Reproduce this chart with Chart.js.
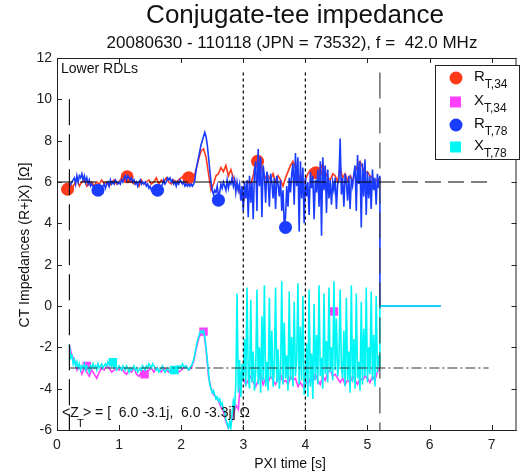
<!DOCTYPE html>
<html>
<head>
<meta charset="utf-8">
<script src="https://cdn.jsdelivr.net/npm/chart.js@4.4.1/dist/chart.umd.min.js"></script>
<style>
  html, body { margin: 0; padding: 0; background: #fff; }
  #ct { display: block; }
</style>
</head>
<body>
<canvas id="ct" width="523" height="472"></canvas>
<script>
/* Conjugate-tee impedance, JPN 73532. */

const FONT = 'Arial, "Liberation Sans", sans-serif';

const xTicks = [0, 1, 2, 3, 4, 5, 6, 7];
const yTicks = [-6, -4, -2, 0, 2, 4, 6, 8, 10, 12];

// sampling of the traces (start time and step, seconds)
const T_START = 0.2;
const DT_78 = 0.02;
const DT_34 = 0.04;

// R_T,78 (blue), one value every 0.02 s from 0.2 s
const r78 = [
  5.8, 5.9, 6.0, 6.1, 6.2, 5.9, 6.3, 6.0, 6.3, 6.2,
  6.4, 6.1, 6.3, 6.0, 6.2, 5.9, 6.1, 5.8, 5.9, 5.8,
  5.7, 5.8, 5.6, 5.7, 5.6, 5.7, 5.6, 5.8, 5.9, 5.7,
  5.9, 6.0, 5.8, 6.1, 5.9, 6.0, 5.9, 6.1, 6.0, 5.9,
  6.0, 5.9, 6.1, 6.0, 6.2, 6.3, 6.1, 6.3, 6.2, 6.1,
  6.2, 6.0, 6.1, 5.9, 6.0, 5.8, 6.0, 6.1, 5.9, 6.0,
  5.9, 6.0, 5.8, 5.9, 5.7, 5.8, 5.6, 5.7, 5.6, 5.5,
  5.6, 5.5, 5.7, 5.6, 5.8, 5.9, 6.1, 5.9, 6.0, 6.2,
  6.1, 6.2, 6.0, 6.1, 5.9, 6.0, 5.8, 6.0, 5.9, 6.1,
  6.0, 5.9, 6.0, 5.8, 5.9, 5.8, 5.9, 5.8, 5.9, 5.8,
  5.9, 6.1, 6.6, 6.9, 7.2, 7.5, 7.8, 8.0, 8.2, 8.4,
  8.2, 7.8, 7.2, 6.6, 6.0, 5.6, 5.4, 5.6, 5.5, 5.8,
  5.3, 5.5, 5.9, 5.7, 6.0, 5.8, 5.6, 6.1, 5.7, 6.0,
  5.9, 6.2, 5.8, 6.1, 5.5, 6.0, 5.6, 5.9, 5.1, 5.8,
  4.6, 6.0, 5.2, 6.1, 4.3, 6.3, 5.0, 6.0, 4.2, 6.5,
  7.0, 4.6, 7.6, 5.8, 7.2, 4.3, 6.8, 6.3, 5.0, 6.5,
  6.1, 4.8, 6.4, 6.0, 5.2, 6.2, 4.7, 6.3, 5.9, 5.3,
  6.1, 4.6, 5.6, 3.9, 4.3, 5.8, 4.8, 6.2, 5.5, 6.4,
  6.9, 4.9, 7.4, 5.8, 7.2, 3.6, 7.0, 5.2, 6.7, 4.0,
  6.2, 5.3, 6.0, 4.4, 6.5, 5.7, 6.3, 4.2, 6.1, 5.5,
  6.6, 4.8, 7.0, 3.4, 7.2, 5.6, 6.8, 4.5, 6.6, 5.2,
  6.1, 4.9, 6.0, 5.6, 6.2, 4.7, 5.9, 6.1, 8.1, 5.4,
  6.2, 4.8, 6.4, 6.0, 5.1, 6.3, 4.7, 6.1, 5.8, 6.4,
  6.8, 4.6, 7.3, 5.9, 7.0, 3.8, 6.9, 5.3, 7.1, 4.4,
  6.5, 5.2, 6.3, 4.7, 6.6, 5.6, 6.2, 4.9, 6.4, 5.7,
  6.3
];

// X_T,78 (cyan), same sampling
const x78 = [
  -1.9, -2.5, -2.4, -2.8, -2.6, -2.9, -2.7, -3.0, -2.8, -3.1,
  -2.9, -3.0, -2.8, -3.1, -2.9, -3.0, -3.2, -2.9, -3.0, -2.8,
  -3.0, -2.9, -3.1, -2.8, -3.0, -2.9, -2.8, -3.0, -2.9, -2.8,
  -2.9, -2.7, -2.8, -2.7, -2.9, -2.8, -3.0, -2.9, -3.1, -3.0,
  -2.9, -3.0, -3.1, -2.9, -3.0, -3.1, -2.9, -3.0, -3.2, -3.0,
  -3.1, -3.0, -2.9, -3.1, -3.0, -3.2, -3.1, -3.0, -3.1, -2.9,
  -3.0, -3.1, -2.9, -3.0, -2.8, -2.9, -3.0, -2.8, -2.9, -3.0,
  -3.1, -3.0, -3.2, -3.1, -3.0, -2.9, -3.1, -3.2, -3.1, -3.0,
  -3.1, -3.2, -3.1, -3.0, -3.2, -3.1, -3.0, -2.9, -3.0, -2.9,
  -3.0, -2.8, -2.9, -3.0, -2.9, -3.0, -3.1, -3.0, -2.9, -2.8,
  -2.6, -2.3, -2.0, -1.7, -1.5, -1.3, -1.2, -1.3, -1.2, -1.5,
  -2.0, -2.6, -3.2, -3.8, -4.0, -4.2, -4.1, -4.3, -4.5, -4.4,
  -4.6, -4.5, -4.8, -4.7, -5.0, -5.1, -5.5, -5.7, -5.9, -5.6,
  -5.9, -5.2, -4.6, -4.9, -3.8, 0.6, -4.2, -2.6, -4.4, -2.8,
  -3.6, -1.6, -3.9, 0.9, -3.4, -4.0, 0.3, -3.7, -2.2, -4.1,
  -3.2, 0.8, -3.8, -2.0, -4.2, -0.5, -3.6, 1.0, -3.9, -2.7,
  -4.1, 0.4, -3.5, -1.2, -3.9, -3.0, 0.9, -3.7, -2.1, -4.0,
  -3.3, 1.2, -3.8, -0.8, -3.5, -2.4, -4.1, 0.7, -3.6, -1.5,
  -3.9, 0.2, -3.4, -2.6, 1.1, -3.8, -1.0, -3.6, 0.5, -4.3,
  -3.7, -1.8, -4.4, 0.8, -3.9, -2.3, -4.5, 0.1, -3.6, -1.4,
  -3.8, 1.0, -3.4, -2.5, -4.0, 0.6, -3.3, -1.7, -3.7, 0.9,
  -3.2, -2.0, -3.6, 1.2, -3.1, -0.6, -3.4, -2.8, 0.8, -3.0,
  -3.5, -1.2, -3.9, 0.4, -3.6, -2.2, -4.2, 1.0, -3.7, -1.6,
  -4.0, 0.6, -3.5, -2.7, -4.1, 0.2, -3.8, -1.1, -3.4, 0.9,
  -3.7, -2.0, -3.3, 0.7, -3.6, -1.4, -3.9, 0.5, -3.2, -2.4,
  -3.0
];

// R_T,34 (red), one value every 0.04 s from 0.2 s
const r34 = [
  5.6, 5.7, 5.9, 6.2, 5.8, 6.0, 6.1, 5.8, 5.9, 6.0,
  5.8, 6.0, 5.9, 6.1, 5.9, 6.0, 5.8, 6.0, 6.1, 5.9,
  6.0, 6.2, 6.3, 6.2, 6.1, 6.0, 5.9, 6.0, 5.8, 6.1,
  5.9, 6.0, 6.1, 5.9, 6.0, 6.2, 5.9, 6.1, 6.0, 6.2,
  6.0, 5.9, 6.1, 6.0, 6.1, 6.2, 6.3, 6.2, 6.1, 6.0,
  6.2, 6.6, 7.1, 7.5, 7.6, 7.2, 6.4, 5.6, 5.9, 6.3,
  6.4, 6.7, 6.5, 6.8, 6.3, 6.6, 6.2, 6.0, 5.6, 5.4,
  5.0, 5.6, 6.0, 5.9, 6.3, 7.0, 7.1, 6.9, 6.4, 6.2,
  6.3, 6.1, 6.4, 6.0, 6.3, 6.1, 5.8, 6.2, 6.5, 6.8,
  7.0, 6.7, 6.5, 6.0, 5.8, 6.1, 6.4, 6.6, 6.5, 6.4,
  6.3, 6.6, 6.9, 6.5, 6.2, 6.1, 6.4, 6.3, 6.0, 6.7,
  6.2, 6.4, 6.1, 6.3, 6.0, 6.5, 6.8, 7.0, 6.7, 6.4,
  6.5, 6.3, 6.2, 6.0, 6.1,
  6.2
];

// X_T,34 (magenta), same sampling as r34
const x34 = [
  -1.9, -2.4, -2.6, -3.1, -2.9, -3.3, -3.0, -3.2, -3.4, -3.1,
  -3.3, -3.5, -3.2, -3.0, -3.1, -2.9, -3.0, -3.2, -3.1, -3.0,
  -3.1, -3.0, -3.2, -3.3, -3.1, -3.2, -3.0, -3.3, -3.4, -3.2,
  -3.3, -3.2, -3.1, -3.0, -3.2, -3.0, -3.1, -3.2, -3.0, -3.1,
  -3.2, -3.0, -3.1, -3.0, -3.2, -3.1, -3.0, -2.9, -3.1, -3.0,
  -2.7, -2.1, -1.6, -1.3, -1.2, -2.1, -3.4, -4.0, -4.3, -4.4,
  -4.6, -4.9, -5.1, -5.6, -5.9, -5.7, -5.3, -4.8, -5.0, -3.4,
  -3.5, -3.8, -3.6, -3.4, -3.7, -3.9, -3.6, -3.3, -3.8, -3.5,
  -3.7, -3.4, -3.6, -3.8, -3.5, -3.3, -3.7, -3.6, -3.8, -3.4,
  -3.6, -3.5, -3.9, -3.7, -3.9, -3.6, -3.8, -3.5, -3.7, -3.3,
  -3.6, -3.8, -3.4, -3.6, -3.2, -3.1, -3.4, -3.3, -3.5, -3.7,
  -3.5, -3.8, -3.6, -3.7, -3.4, -3.6, -3.8, -3.5, -3.6, -3.4,
  -3.5, -3.7, -3.4, -3.6, -3.2,
  -3.0
];

// after the RF trip both 7/8 traces sit at zero
const tailTime = [5.2, 6.18];
const tailR78 = [0, 0];
const tailX78 = [0, 0];

// sparse marker symbols
const r34MarkT = [0.17, 1.13, 2.12, 3.23, 4.17];
const r34MarkV = [5.65, 6.25, 6.2, 7.0, 6.45];
const r78MarkT = [0.66, 1.62, 2.6, 3.68];
const r78MarkV = [5.6, 5.6, 5.12, 3.8];
const x34MarkT = [0.48, 1.41, 2.36, 4.46];
const x34MarkV = [-2.9, -3.3, -1.24, -0.27];
const x78MarkT = [0.9, 1.89];
const x78MarkV = [-2.72, -3.1];

// mean levels and timing marks
const meanR = 6;
const meanX = -3;
const meanRSpan = [0, 6.95];
const meanXSpan = [0.2, 6.95];
const windowT = [0.2, 5.2];
const windowTop = [10, 11.3];
const phaseT = [3, 4];
const phaseTop = 11.3;

const COLORS = { r34: '#ff3a1a', x34: '#ff40ff', r78: '#1a3cff', x78: '#00f5f5' };

function series(values, t0, dt){
  return values.map((v, i) => ({ x: t0 + i * dt, y: v }));
}
function pairs(ts, vs){
  return ts.map((t, i) => ({ x: t, y: vs[i] }));
}

function lineSet(data, color, order){
  return { data, showLine: true, borderColor: color, borderWidth: 1.6, pointRadius: 0, order };
}
function markSet(data, color, style, order){
  return { data, showLine: false, pointStyle: style, pointRadius: style === 'circle' ? 6.5 : 6,
           backgroundColor: color, borderColor: color, borderWidth: 0, order };
}
function refSet(data, dash, color, order){
  return { data, showLine: true, borderColor: color, borderWidth: 1.2, borderDash: dash, pointRadius: 0, order };
}

const datasets = [
  lineSet(series(r34, T_START, DT_34), COLORS.r34, 9),
  markSet(pairs(r34MarkT, r34MarkV), COLORS.r34, 'circle', 8),
  lineSet(series(x34, T_START, DT_34), COLORS.x34, 7),
  markSet(pairs(x34MarkT, x34MarkV), COLORS.x34, 'rect', 6),
  lineSet(series(r78, T_START, DT_78).concat(pairs(tailTime, tailR78)), COLORS.r78, 5),
  markSet(pairs(r78MarkT, r78MarkV), COLORS.r78, 'circle', 4),
  lineSet(series(x78, T_START, DT_78).concat(pairs(tailTime, tailX78)), COLORS.x78, 3),
  markSet(pairs(x78MarkT, x78MarkV), COLORS.x78, 'rect', 2),
  refSet(pairs(meanRSpan, [meanR, meanR]), [16, 7], '#000', 1),
  refSet(pairs(meanXSpan, [meanX, meanX]), [10, 3, 2, 3], '#333', 1),
  refSet(pairs([windowT[0], windowT[0]], [windowTop[0], -6]), [26, 9], '#111', 1),
  refSet(pairs([windowT[1], windowT[1]], [windowTop[1], -6]), [26, 9], '#444', 1),
  refSet(pairs([phaseT[0], phaseT[0]], [phaseTop, -6]), [3, 3], '#000', 1),
  refSet(pairs([phaseT[1], phaseT[1]], [phaseTop, -6]), [3, 3], '#000', 1)
];

// frame, inward ticks, titles, annotations and the legend box
const decorations = {
  id: 'decorations',
  afterDraw(chart){
    const { ctx, chartArea: a } = chart;
    const xs = chart.scales.x, ys = chart.scales.y;
    ctx.save();
    ctx.strokeStyle = '#222';
    ctx.lineWidth = 1;
    ctx.strokeRect(a.left + 0.5, a.top + 0.5, a.right - a.left - 1, a.bottom - a.top);
    ctx.beginPath();
    xTicks.forEach(t => {
      const px = Math.round(xs.getPixelForValue(t)) + 0.5;
      ctx.moveTo(px, a.bottom); ctx.lineTo(px, a.bottom - 5);
      ctx.moveTo(px, a.top); ctx.lineTo(px, a.top + 5);
    });
    yTicks.forEach(v => {
      const py = Math.round(ys.getPixelForValue(v)) + 0.5;
      ctx.moveTo(a.left, py); ctx.lineTo(a.left + 5, py);
      ctx.moveTo(a.right, py); ctx.lineTo(a.right - 5, py);
    });
    ctx.stroke();

    ctx.fillStyle = '#111';
    ctx.textAlign = 'center';
    ctx.textBaseline = 'alphabetic';
    ctx.font = '26px ' + FONT;
    ctx.fillText('Conjugate-tee impedance', 295, 23);
    ctx.font = '17px ' + FONT;
    ctx.fillText('20080630 - 110118 (JPN = 73532), f =  42.0 MHz', 292, 48);

    ctx.font = '14px ' + FONT;
    ctx.fillText('PXI time [s]', 290, 468);
    ctx.save();
    ctx.translate(29, 245);
    ctx.rotate(-Math.PI / 2);
    ctx.fillText('CT Impedances (R+jX) [Ω]', 0, 0);
    ctx.restore();

    ctx.textAlign = 'left';
    ctx.fillText('Lower RDLs', 61, 73);
    ctx.fillText('<Z', 62, 417);
    ctx.fillText('> = [  6.0 -3.1j,  6.0 -3.3j] Ω', 83, 417);
    ctx.font = '11px ' + FONT;
    ctx.fillText('T', 77, 427);

    // legend
    const lx = 435, ly = 65, lw = 84, lh = 94;
    ctx.fillStyle = '#fff';
    ctx.fillRect(lx, ly, lw, lh);
    ctx.strokeStyle = '#222';
    ctx.strokeRect(lx + 0.5, ly + 0.5, lw, lh);
    const entries = [
      ['R', 'T,34', COLORS.r34, 'circle', 78],
      ['X', 'T,34', COLORS.x34, 'rect', 102],
      ['R', 'T,78', COLORS.r78, 'circle', 125],
      ['X', 'T,78', COLORS.x78, 'rect', 147]
    ];
    entries.forEach(([main, sub, color, shape, y]) => {
      ctx.fillStyle = color;
      if (shape === 'circle'){
        ctx.beginPath(); ctx.arc(456, y, 6.5, 0, Math.PI * 2); ctx.fill();
      } else {
        ctx.fillRect(450, y - 5.5, 11, 11);
      }
      ctx.fillStyle = '#111';
      ctx.font = '15px ' + FONT;
      ctx.fillText(main, 474, y + 3);
      const w = ctx.measureText(main).width;
      ctx.font = '12px ' + FONT;
      ctx.fillText(sub, 474 + w, y + 10);
    });
    ctx.restore();
  }
};

new Chart(document.getElementById('ct'), {
  type: 'scatter',
  data: { datasets },
  options: {
    responsive: false,
    animation: false,
    devicePixelRatio: 1,
    layout: { padding: { top: 58, right: 2, left: 0, bottom: 0 } },
    plugins: { legend: { display: false }, tooltip: { enabled: false }, title: { display: false } },
    scales: {
      x: {
        type: 'linear', min: 0, max: 7.4,
        grid: { display: false, drawTicks: false },
        border: { display: false },
        ticks: { padding: 7, color: '#222', font: { family: FONT, size: 14 } },
        afterBuildTicks: s => { s.ticks = xTicks.map(v => ({ value: v })); },
        afterFit: s => { s.height = 42; }
      },
      y: {
        type: 'linear', min: -6, max: 12,
        grid: { display: false, drawTicks: false },
        border: { display: false },
        ticks: { padding: 5, color: '#222', font: { family: FONT, size: 14 } },
        afterBuildTicks: s => { s.ticks = yTicks.map(v => ({ value: v })); },
        afterFit: s => { s.width = 57; }
      }
    }
  },
  plugins: [decorations]
});
</script>
</body>
</html>
